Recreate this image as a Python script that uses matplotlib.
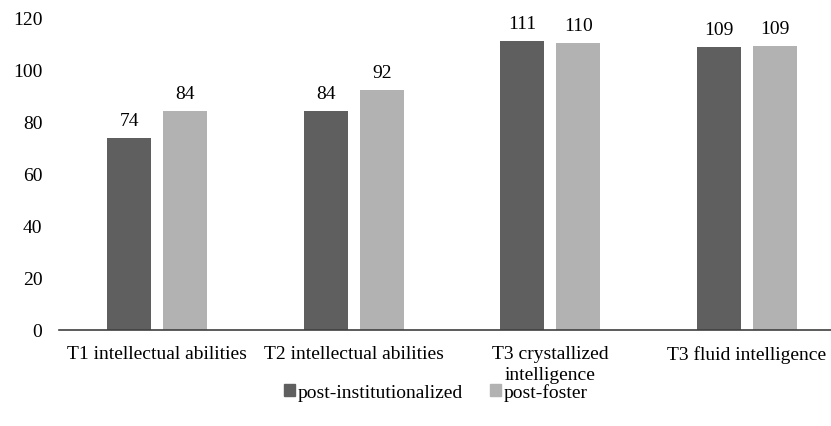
import numpy as np
import matplotlib.pyplot as plt
from matplotlib.patches import Patch

categories = ["T1 intellectual abilities", "T2 intellectual abilities",
              "T3 crystallized\nintelligence", "T3 fluid intelligence"]
post_inst = [73.9, 84.2, 111.3, 108.8]
post_foster = [84.3, 92.2, 110.4, 109.2]
series_names = ["post-institutionalized", "post-foster"]

plt.rcParams['font.family'] = ['Liberation Serif', 'DejaVu Serif']
fs = 14

fig = plt.figure(figsize=(8.31, 4.27), dpi=100)
# axes run a little past the right edge, like the cropped original
ax = fig.add_axes([59 / 831, 96 / 427, 786 / 831, 312 / 427])

x = np.arange(len(categories))
w = 0.224
off = 0.1425
dark = '#5f5f5f'
light = '#b2b2b2'

b1 = ax.bar(x - off, post_inst, w, color=dark)
b2 = ax.bar(x + off, post_foster, w, color=light)

for bars, vals in ((b1, post_inst), (b2, post_foster)):
    for r, v in zip(bars, vals):
        ax.text(r.get_x() + r.get_width() / 2, v + 3.5, "%d" % round(v),
                ha='center', va='bottom', fontsize=fs, color='#000000')

ax.set_xlim(-0.5, 3.5)
ax.set_ylim(0, 120)
ax.set_yticks(range(0, 121, 20))
ax.set_xticks(x)
ax.set_xticklabels(categories, fontsize=fs, linespacing=1.3)
ax.tick_params(axis='both', length=0, labelsize=fs)
ax.tick_params(axis='y', pad=12)
ax.tick_params(axis='x', pad=11)

for s in ['top', 'right', 'left']:
    ax.spines[s].set_visible(False)
ax.spines['bottom'].set_color('#404040')
ax.spines['bottom'].set_linewidth(1.2)

handles = [Patch(color=dark), Patch(color=light)]
fig.legend(handles, series_names, loc='center', bbox_to_anchor=(436 / 831, 1 - 393 / 427),
           ncol=2, frameon=False, fontsize=fs, handlelength=0.55, handleheight=0.55,
           handletextpad=0.15, columnspacing=1.4)

fig.savefig('out.png', dpi=100)
